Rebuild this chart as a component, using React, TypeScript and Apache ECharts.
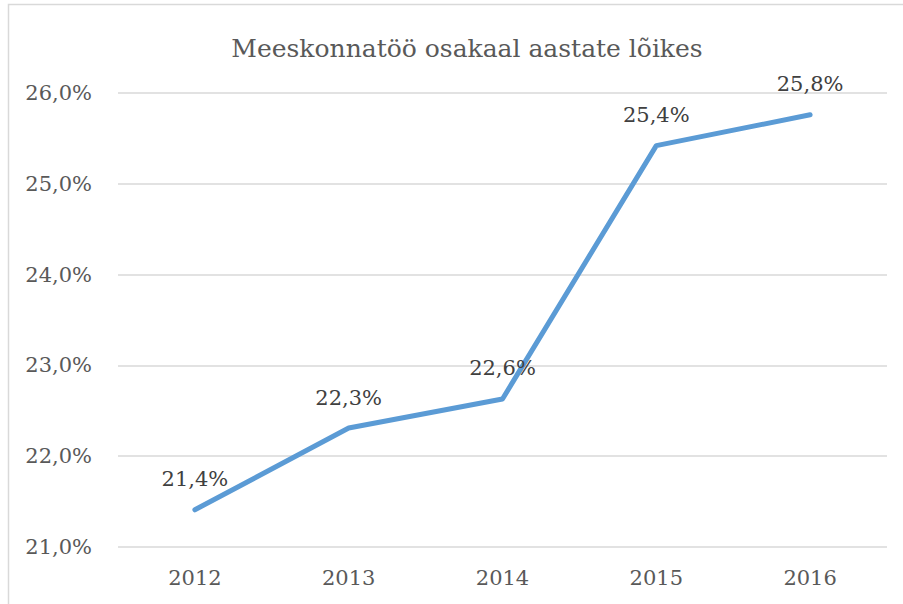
import React, { useEffect, useRef } from "react";
import * as echarts from "echarts";

const categories = ["2012", "2013", "2014", "2015", "2016"];
const values = [21.41, 22.31, 22.63, 25.42, 25.76];
const titleText = "Meeskonnatöö osakaal aastate lõikes";

const fmt = (v: number) => v.toFixed(1).replace(".", ",") + "%";

export default function App() {
  const ref = useRef<HTMLDivElement>(null);
  useEffect(() => {
    document.body.style.margin = "0";
    const chart = echarts.init(ref.current!, undefined, { renderer: "svg" });
    const font = "DejaVu Serif";
    chart.setOption({
      animation: false,
      backgroundColor: "#ffffff",
      textStyle: { fontFamily: font },
      title: {
        text: titleText,
        left: 462,
        textAlign: "center",
        top: 31,
        textStyle: { fontFamily: font, fontSize: 25, fontWeight: "normal", color: "#595959" },
      },
      graphic: [
        {
          type: "rect",
          shape: { x: 8.5, y: 4.5, width: 1000, height: 1000 },
          style: { fill: "none", stroke: "#d9d9d9", lineWidth: 1.5 },
          silent: true,
        },
      ],
      grid: { left: 118, right: 16, top: 93, bottom: 57 },
      xAxis: {
        type: "category",
        data: categories,
        boundaryGap: true,
        axisLine: { show: false },
        axisTick: { show: false },
        axisLabel: { fontFamily: font, fontSize: 21, color: "#595959", margin: 20 },
      },
      yAxis: {
        type: "value",
        min: 21,
        max: 26,
        interval: 1,
        axisLine: { show: false },
        axisTick: { show: false },
        splitLine: { lineStyle: { color: "#d9d9d9", width: 1.5 } },
        axisLabel: {
          fontFamily: font,
          fontSize: 21,
          color: "#595959",
          margin: 26,
          formatter: (v: number) => fmt(v),
        },
      },
      series: [
        {
          type: "line",
          data: values,
          symbol: "circle",
          symbolSize: 2,
          showSymbol: true,
          itemStyle: { color: "#5B9BD5" },
          lineStyle: { color: "#5B9BD5", width: 5, cap: "round", join: "round" },
          label: {
            show: true,
            position: "top",
            distance: 19,
            fontFamily: font,
            fontSize: 21,
            color: "#404040",
            formatter: (p: any) => fmt(p.value),
          },
        },
      ],
    });
    return () => chart.dispose();
  }, []);
  return <div ref={ref} style={{ width: 903, height: 604 }} />;
}
